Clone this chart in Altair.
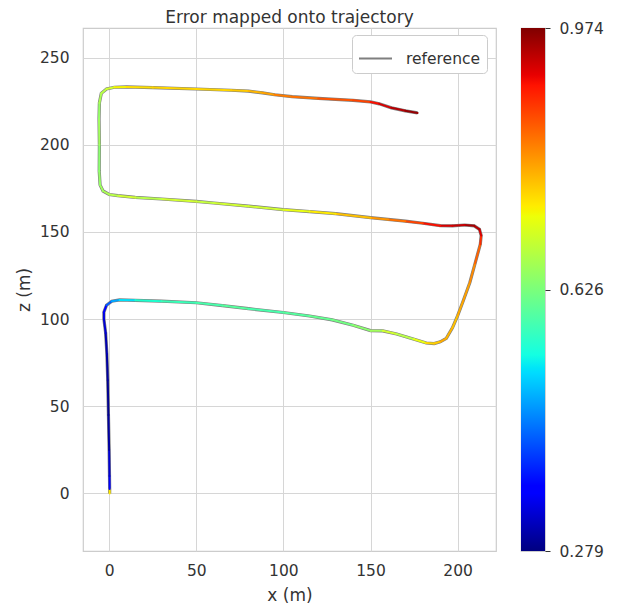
import altair as alt
import pandas as pd

# Trajectory vertices (x, z in metres), with the error at each vertex
x_m = [0.3, 0.3, 0.2, 0.0, -0.4, -0.8, -1.3, -2.0, -3.0, -3.0, -1.5, 1.5, 6, 15, 30, 50, 65, 80, 100,
       115, 128, 140, 150, 157, 165, 175, 182, 186.5, 190, 193.5, 197, 200, 203, 207, 210, 213,
       213.5, 212.5, 209.5, 204, 197, 190, 180, 170, 160, 150, 130, 115, 100, 80, 60, 50, 30, 15,
       5, 0, -3.5, -5.2, -5.7, -5.6, -5.8, -5.6, -4.5, -1.5, 3, 10, 25, 50, 70, 80, 88, 95, 105,
       120, 140, 150, 155, 162, 170, 177]
z_m = [0, 2.5, 10, 25, 45, 65, 80, 92, 100, 104, 108, 110.3, 111, 110.8, 110.3, 109.4, 107.8, 106,
       103.8, 101.8, 99.6, 96.5, 93.4, 93.3, 91.5, 88.5, 86.3, 86, 87, 89, 95, 102, 110, 121, 132,
       143, 148, 151.5, 153.5, 154, 153.5, 153.6, 155, 156.2, 157.2, 158.2, 160.5, 161.7, 162.8,
       164.8, 166.6, 167.5, 168.9, 169.8, 170.8, 171.5, 173.5, 177, 185, 200, 215, 224, 229.5,
       232, 233, 233.2, 232.8, 232.0, 231.3, 230.8, 229.8, 228.7, 227.6, 226.6, 225.5, 224.6,
       223.5, 221.2, 219.5, 218.3]
err = [0.74, 0.36, 0.33, 0.30, 0.29, 0.30, 0.31, 0.33, 0.34, 0.36, 0.40, 0.46, 0.52, 0.56, 0.58, 0.59,
       0.60, 0.59, 0.60, 0.61, 0.62, 0.64, 0.66, 0.70, 0.68, 0.72, 0.76, 0.77, 0.80, 0.79, 0.78,
       0.80, 0.81, 0.83, 0.86, 0.89, 0.92, 0.94, 0.95, 0.93, 0.92, 0.90, 0.88, 0.85, 0.82, 0.78,
       0.74, 0.72, 0.70, 0.70, 0.69, 0.70, 0.68, 0.70, 0.68, 0.67, 0.66, 0.65, 0.64, 0.66, 0.65,
       0.67, 0.68, 0.70, 0.73, 0.75, 0.76, 0.76, 0.77, 0.79, 0.81, 0.84, 0.85, 0.87, 0.88, 0.90,
       0.92, 0.94, 0.96, 0.97]

ERR_MIN, ERR_MAX = 0.279, 0.974
cbar_ticks = [0.279, 0.626, 0.974]
x_ticks = [0, 50, 100, 150, 200]
z_ticks = [0, 50, 100, 150, 200, 250]

# matplotlib "jet" colormap stops
jet_offsets = [0, 0.11, 0.125, 0.34, 0.35, 0.375, 0.5, 0.64, 0.65, 0.66, 0.89, 0.91, 1]
jet_colors = ["#000080", "#0000ff", "#0000ff", "#00dbff", "#00e5f8", "#14ffe2", "#7bff7b",
              "#eeff08", "#f7f500", "#ffec00", "#ff1300", "#e80000", "#800000"]
jet_domain = [ERR_MIN + o * (ERR_MAX - ERR_MIN) for o in jet_offsets]

n = len(x_m)
traj = pd.DataFrame({"i": list(range(n)), "x": x_m, "z": z_m, "name": ["reference"] * n})
seg = pd.DataFrame({"x": x_m[:-1], "z": z_m[:-1], "x2": x_m[1:], "z2": z_m[1:], "err": err[:-1]})

FONT = "DejaVu Sans"
TXT = "#333333"
TICK_FS = 15.5
TITLE_FS = 17

xs = alt.Scale(domain=[-15, 222], nice=False, zero=False)
zs = alt.Scale(domain=[-33, 267], nice=False, zero=False)

ref_line = alt.Chart(traj).mark_line(strokeWidth=3.2).encode(
    x=alt.X("x:Q", scale=xs, title="x (m)",
            axis=alt.Axis(values=x_ticks, labelPadding=12, titlePadding=9)),
    y=alt.Y("z:Q", scale=zs, title="z (m)",
            axis=alt.Axis(values=z_ticks, labelPadding=14, titlePadding=6)),
    order="i:Q",
    stroke=alt.Stroke("name:N", scale=alt.Scale(domain=["reference"], range=["#7f7f7f"]),
                      legend=alt.Legend(title=None, orient="none", legendX=269, legendY=7,
                                        symbolType="stroke", symbolStrokeWidth=2,
                                        symbolSize=1089, labelFontSize=TICK_FS, labelColor=TXT,
                                        labelFont=FONT, labelOffset=13, strokeColor="#cccccc",
                                        fillColor="white", cornerRadius=4, padding=6)),
)

err_segs = alt.Chart(seg).mark_rule(strokeWidth=2, strokeCap="round").encode(
    x="x:Q", y="z:Q", x2="x2:Q", y2="z2:Q",
    color=alt.Color("err:Q", scale=alt.Scale(domain=jet_domain, range=jet_colors),
                    legend=None),
)

main = alt.layer(ref_line, err_segs).properties(
    width=413, height=523,
    title=alt.Title("Error mapped onto trajectory", fontSize=TITLE_FS, fontWeight="normal",
                    color=TXT, font=FONT, offset=1),
)

cbar_df = pd.DataFrame({"lo": [ERR_MIN], "hi": [ERR_MAX]})
grad = alt.LinearGradient(
    gradient="linear",
    stops=[alt.GradientStop(color=c, offset=o) for o, c in zip(jet_offsets, jet_colors)],
    x1=0, x2=0, y1=1, y2=0,
)
cbar = alt.Chart(cbar_df).mark_rect(color=grad).encode(
    y=alt.Y("lo:Q", scale=alt.Scale(domain=[ERR_MIN, ERR_MAX], nice=False, zero=False),
            title=None,
            axis=alt.Axis(orient="right", values=cbar_ticks, format=".3f", grid=False,
                          ticks=True, tickSize=5, tickColor=TXT, labelPadding=9)),
    y2="hi:Q",
).properties(width=24, height=523)

chart = alt.hconcat(main, cbar, spacing=23).properties(
    padding={"left": 6, "top": 0, "right": 5, "bottom": 0},
).configure(
    font=FONT,
).configure_view(
    stroke="#cccccc", strokeWidth=1.2,
).configure_axis(
    labelFont=FONT, titleFont=FONT, labelFontSize=TICK_FS, titleFontSize=TITLE_FS,
    labelColor=TXT, titleColor=TXT, titleFontWeight="normal",
    gridColor="#d6d6d6", gridWidth=1, domain=False, tickSize=0,
)

chart.save("out.html", embed_options={"renderer": "svg", "actions": False})
